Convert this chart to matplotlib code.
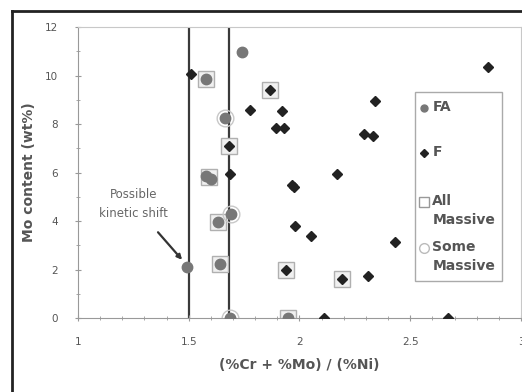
import matplotlib
matplotlib.use('Agg')
import matplotlib.pyplot as plt
from matplotlib.lines import Line2D
from matplotlib.patches import Rectangle
import numpy as np

# F alloys (black diamonds)
f_ratio = [1.51, 1.68, 1.685, 1.775, 1.865, 1.92, 1.895, 1.93, 1.965, 1.975, 1.98, 2.05,
           2.17, 2.34, 2.29, 2.33, 2.43, 2.31, 2.19, 1.94, 2.11, 2.67, 2.85]
f_mo = [10.05, 7.1, 5.95, 8.57, 9.42, 8.52, 7.84, 7.84, 5.5, 5.42, 3.78, 3.39,
        5.95, 8.97, 7.59, 7.49, 3.13, 1.75, 1.6, 1.96, 0.0, 0.0, 10.36]

# FA alloys (gray circles)
fa_ratio = [1.74, 1.58, 1.665, 1.58, 1.60, 1.63, 1.64, 1.685, 1.95, 1.69, 1.49]
fa_mo = [10.96, 9.86, 8.25, 5.85, 5.75, 3.98, 2.23, 0.0, 0.0, 4.3, 2.12]

# all massive (open squares)
am_ratio = [1.58, 1.865, 1.68, 1.59, 1.63, 1.64, 1.94, 2.19, 1.95]
am_mo = [9.86, 9.42, 7.1, 5.8, 3.98, 2.23, 1.96, 1.6, 0.0]

# some massive (open circles)
sm_ratio = [1.665, 1.685, 1.69]
sm_mo = [8.25, 0.0, 4.3]

boundaries = [1.5, 1.68]

x_ticks = [1, 1.5, 2, 2.5, 3]
x_labels = ['1', '1.5', '2', '2.5', '3']
y_ticks = [0, 2, 4, 6, 8, 10, 12]

legend_labels = ['FA', 'F', 'All\nMassive', 'Some\nMassive']

fig = plt.figure(figsize=(5.22, 3.92), dpi=100)
ax = fig.add_axes([0.1494, 0.1888, 0.8487, 0.742])

for b in boundaries:
    ax.axvline(b, color='#3a3a3a', lw=1.6, zorder=1)

ax.plot(am_ratio, am_mo, ls='none', marker='s', ms=12, mfc='#f0f0f0',
        mec='#b0b0b0', mew=1.0, zorder=2)
ax.plot(sm_ratio, sm_mo, ls='none', marker='o', ms=12, mfc='none',
        mec='#c8c8c8', mew=1.0, zorder=2)
ax.plot(fa_ratio, fa_mo, ls='none', marker='o', ms=7.5, color='#777777', zorder=3)
ax.plot(f_ratio, f_mo, ls='none', marker='D', ms=5.5, color='#222222', zorder=4)

ax.set_xlim(1, 3)
ax.set_ylim(0, 12)
ax.set_xticks(x_ticks)
ax.set_xticklabels(x_labels)
ax.set_yticks(y_ticks)
ax.set_xticks(np.arange(1, 3.01, 0.1), minor=True)
ax.set_yticks(np.arange(0, 12.01, 1), minor=True)
ax.tick_params(which='both', direction='inout', color='#999999', labelsize=7.5,
               labelcolor='#555555')
ax.tick_params(which='major', length=5)
ax.tick_params(which='minor', length=3)
ax.tick_params(axis='x', pad=11)
ax.tick_params(axis='y', pad=12)
for s in ax.spines.values():
    s.set_color('#c8c8c8')
ax.spines['bottom'].set_color('#999999')
ax.spines['left'].set_color('#999999')

ax.set_xlabel('(%Cr + %Mo) / (%Ni)', fontsize=10, fontweight='bold', color='#555555',
              labelpad=8)
ax.set_ylabel('Mo content (wt%)', fontsize=10, fontweight='bold', color='#555555',
              labelpad=6)

ax.annotate('Possible\nkinetic shift', xy=(1.47, 2.4), xytext=(1.25, 4.7),
            ha='center', va='center', fontsize=8.5, color='#666666', linespacing=1.6,
            arrowprops=dict(arrowstyle='-|>', color='#333333', lw=1.6,
                            shrinkA=9, shrinkB=0, mutation_scale=7))

# legend box drawn by hand so the markers sit on the first line of each label
lx0, lx1, ly0, ly1 = 0.761, 0.957, 0.127, 0.777
ax.add_patch(Rectangle((lx0, ly0), lx1 - lx0, ly1 - ly0, transform=ax.transAxes,
                       fill=True, facecolor='white', edgecolor='#aaaaaa', lw=1.0,
                       zorder=5, clip_on=False))
row_y = [0.722, 0.567, 0.399, 0.241]
leg_styles = [
    dict(marker='o', ms=5, color='#777777'),
    dict(marker='D', ms=4, color='#222222'),
    dict(marker='s', ms=7, mfc='white', mec='#999999'),
    dict(marker='o', ms=7, mfc='white', mec='#bbbbbb'),
]
for yy, lab, st in zip(row_y, legend_labels, leg_styles):
    ax.plot([0.782], [yy], ls='none', transform=ax.transAxes, clip_on=False,
            zorder=6, **st)
    ax.text(0.800, yy + 0.028, lab, transform=ax.transAxes, ha='left', va='top',
            fontsize=10, fontweight='bold', color='#555555', linespacing=1.45,
            zorder=6)

# outer frame of the figure
fig.add_artist(Line2D([12 / 522, 12 / 522], [0, 1 - 11 / 392], color='#222222', lw=2,
                      transform=fig.transFigure))
fig.add_artist(Line2D([12 / 522, 1], [1 - 11 / 392, 1 - 11 / 392], color='#222222', lw=2,
                      transform=fig.transFigure))

fig.savefig('out.png', dpi=100)
